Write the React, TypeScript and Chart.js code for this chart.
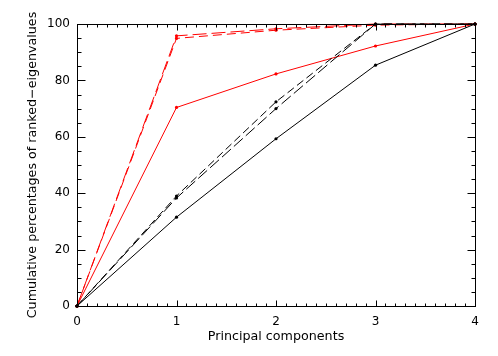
import React, { useEffect, useRef } from "react";
import { Chart, registerables } from "chart.js";

Chart.register(...registerables);

const components = [0, 1, 2, 3, 4];
const xTicks = [0, 1, 2, 3, 4];
const yTicks = [0, 20, 40, 60, 80, 100];

const blackSolid = [0, 31.5, 59.3, 85.4, 100];
const blackDashedA = [0, 39.0, 72.4, 100, 100];
const blackDashedB = [0, 38.3, 70.0, 100, 100];
const redSolid = [0, 70.4, 82.3, 92.2, 100];
const redDashedA = [0, 95.8, 98.3, 100, 100];
const redDashedB = [0, 94.9, 97.8, 99.6, 100];

const xTitle = "Principal components";
const yTitle = "Cumulative percentages of ranked\u2212eigenvalues";

const FONT = "'DejaVu Sans', sans-serif";

const frame = {
  id: "frame",
  afterDraw(chart: any) {
    const { ctx, chartArea: a, scales } = chart;
    const xs = scales.x;
    const ys = scales.y;
    ctx.save();
    ctx.strokeStyle = "#000";
    ctx.lineWidth = 1;
    const L = Math.round(a.left) + 0.5;
    const R = Math.round(a.right) + 0.5;
    const T = Math.round(a.top) + 0.5;
    const B = Math.round(a.bottom) + 0.5;
    ctx.strokeRect(L, T, R - L, B - T);
    ctx.beginPath();
    for (let i = 0; i <= 40; i++) {
      const v = i / 10;
      const px = Math.round(xs.getPixelForValue(v)) + 0.5;
      const len = i % 10 === 0 ? 6 : 3;
      ctx.moveTo(px, B);
      ctx.lineTo(px, B - len);
      ctx.moveTo(px, T);
      ctx.lineTo(px, T + len);
    }
    for (let v = 0; v <= 100; v += 5) {
      const py = Math.round(ys.getPixelForValue(v)) + 0.5;
      const len = v % 20 === 0 ? 8 : 4;
      ctx.moveTo(L, py);
      ctx.lineTo(L + len, py);
      ctx.moveTo(R, py);
      ctx.lineTo(R - len, py);
    }
    ctx.stroke();
    ctx.fillStyle = "#000";
    ctx.font = `12.7px ${FONT}`;
    ctx.textAlign = "center";
    ctx.textBaseline = "middle";
    ctx.fillText(xTitle, (a.left + a.right) / 2, 337);
    ctx.translate(33, (a.top + a.bottom) / 2);
    ctx.rotate(-Math.PI / 2);
    ctx.fillText(yTitle, 0, 0);
    ctx.restore();
  },
};

function mk(label: string, data: number[], color: string, dash: number[]) {
  return {
    label,
    data: data.map((y, i) => ({ x: components[i], y })),
    borderColor: color,
    backgroundColor: color,
    borderWidth: 1,
    borderDash: dash,
    pointRadius: 1.6,
    pointBorderWidth: 0,
    pointHoverRadius: 1.6,
    fill: false,
    tension: 0,
    clip: false as any,
  };
}

export default function App() {
  const ref = useRef<HTMLCanvasElement>(null);
  useEffect(() => {
    if (!ref.current) return;
    const chart = new Chart(ref.current, {
      type: "line",
      data: {
        datasets: [
          mk("black solid", blackSolid, "#000000", []),
          mk("black dashed A", blackDashedA, "#000000", [8, 4]),
          mk("black dashed B", blackDashedB, "#000000", [12, 4]),
          mk("red solid", redSolid, "#ff0000", []),
          mk("red dashed A", redDashedA, "#ff0000", [14, 5]),
          mk("red dashed B", redDashedB, "#ff0000", [9, 5]),
        ],
      },
      plugins: [frame],
      options: {
        animation: false,
        responsive: false,
        events: [],
        layout: { padding: { top: 24, right: 23, left: 0, bottom: 0 } },
        plugins: { legend: { display: false }, tooltip: { enabled: false } },
        scales: {
          x: {
            type: "linear",
            min: 0,
            max: 4,
            afterFit: (s: any) => {
              s.height = 50;
            },
            afterBuildTicks: (s: any) => {
              s.ticks = xTicks.map((v) => ({ value: v }));
            },
            grid: { display: false, drawTicks: false },
            border: { display: false },
            ticks: {
              color: "#000",
              padding: 9,
              maxRotation: 0,
              font: { family: FONT, size: 12 },
            },
          },
          y: {
            type: "linear",
            min: 0,
            max: 100,
            afterFit: (s: any) => {
              s.width = 77;
            },
            afterBuildTicks: (s: any) => {
              s.ticks = yTicks.map((v) => ({ value: v }));
            },
            grid: { display: false, drawTicks: false },
            border: { display: false },
            ticks: {
              color: "#000",
              padding: 7,
              labelOffset: 0,
              font: { family: FONT, size: 12 },
            },
          },
        },
      } as any,
    });
    return () => chart.destroy();
  }, []);
  return (
    <div style={{ position: "fixed", left: 0, top: 0, width: 498, height: 356, background: "#fff" }}>
      <canvas ref={ref} width={498} height={356} />
    </div>
  );
}
